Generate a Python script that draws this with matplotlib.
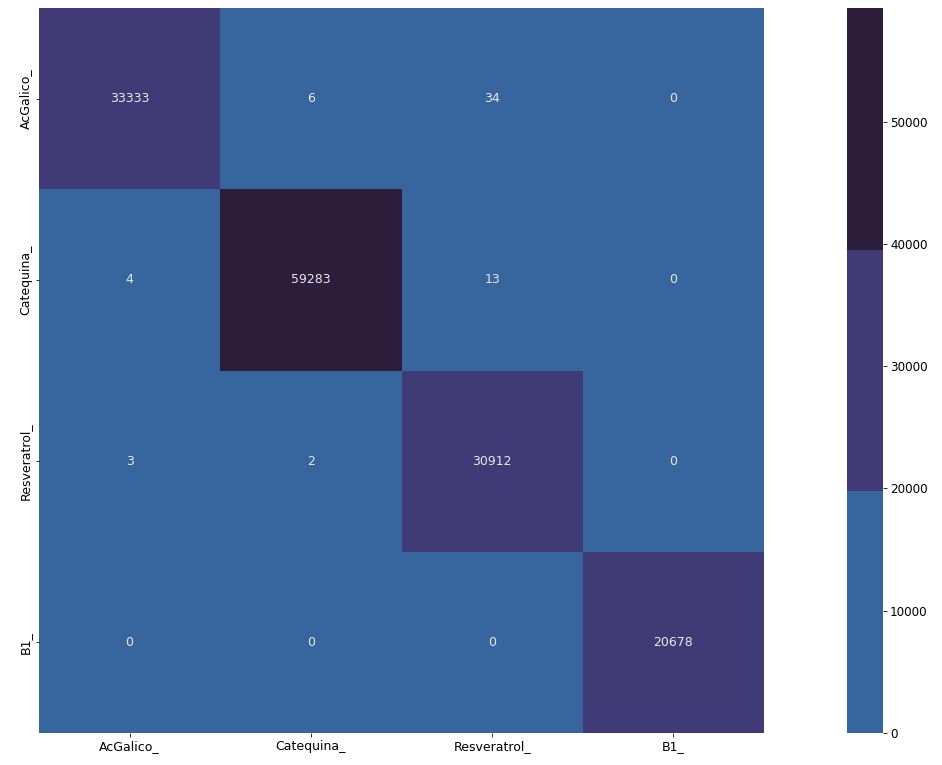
import numpy as np
import matplotlib
matplotlib.use("Agg")
import matplotlib.pyplot as plt
import seaborn as sns
from matplotlib.colors import ListedColormap

labels = ["AcGalico_", "Catequina_", "Resveratrol_", "B1_"]
conf_matrix = np.array([
    [33333, 6, 34, 0],
    [4, 59283, 13, 0],
    [3, 2, 30912, 0],
    [0, 0, 0, 20678],
])

# three-step palette for the confusion matrix
cmap = ListedColormap(["#37659e", "#403b76", "#2e1e3b"])

fig = plt.figure(figsize=(942 / 72, 765 / 72), dpi=72)
ax = fig.add_axes([39 / 942, 1 - 733 / 765, 725 / 942, 725 / 765])
cax = fig.add_axes([847 / 942, 1 - 733 / 765, 36 / 942, 725 / 765])

sns.heatmap(conf_matrix, annot=True, fmt="d", cmap=cmap, ax=ax, cbar_ax=cax,
            xticklabels=labels, yticklabels=labels,
            annot_kws={"size": 12.5, "color": "#e8e8ee"})
ax.tick_params(labelsize=12.5)
cax.tick_params(labelsize=12)
cax.yaxis.set_ticks([0, 10000, 20000, 30000, 40000, 50000])

fig.savefig("out.png", dpi=72)
